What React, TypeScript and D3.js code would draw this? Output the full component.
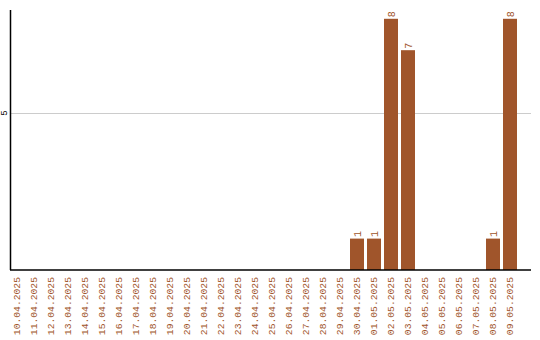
import React from "react";
import * as d3 from "d3";

const dates = [
  "10.04.2025", "11.04.2025", "12.04.2025", "13.04.2025", "14.04.2025",
  "15.04.2025", "16.04.2025", "17.04.2025", "18.04.2025", "19.04.2025",
  "20.04.2025", "21.04.2025", "22.04.2025", "23.04.2025", "24.04.2025",
  "25.04.2025", "26.04.2025", "27.04.2025", "28.04.2025", "29.04.2025",
  "30.04.2025", "01.05.2025", "02.05.2025", "03.05.2025", "04.05.2025",
  "05.05.2025", "06.05.2025", "07.05.2025", "08.05.2025", "09.05.2025",
];
const counts = [
  0, 0, 0, 0, 0, 0, 0, 0, 0, 0,
  0, 0, 0, 0, 0, 0, 0, 0, 0, 0,
  1, 1, 8, 7, 0, 0, 0, 0, 1, 8,
];
const yTicks = [5];

const W = 540;
const H = 340;
const left = 10;
const right = 531;
const top = 10;
const bottom = 270;
const color = "#a0552b";
const font = "'Liberation Mono', 'DejaVu Sans Mono', monospace";

export default function App() {
  const x = d3.scaleBand<string>().domain(dates).range([left, 517]).paddingInner(3 / 17).paddingOuter(0);
  const y = d3.scaleLinear().domain([0, 8.28]).range([bottom, top]);

  return (
    <svg width={W} height={H} style={{ position: "absolute", left: 0, top: 0, background: "#fff" }}>
      {yTicks.map((t) => (
        <g key={t}>
          <line x1={left} x2={right} y1={Math.round(y(t)) + 0.5} y2={Math.round(y(t)) + 0.5} stroke="#cccccc" />
          <text
            transform={`translate(4,${y(t)}) rotate(-90)`}
            textAnchor="middle"
            dy="0.35em"
            fontFamily={font}
            fontSize={9}
            fill="#000"
          >
            {t}
          </text>
        </g>
      ))}
      {dates.map((d, i) =>
        counts[i] > 0 ? (
          <g key={d}>
            <rect x={x(d)} y={y(counts[i])} width={x.bandwidth()} height={bottom - y(counts[i])} fill={color} />
            <text
              transform={`translate(${(x(d) as number) + x.bandwidth() / 2},${y(counts[i]) - 1.5}) rotate(-90)`}
              textAnchor="start"
              dy="0.35em"
              fontFamily={font}
              fontSize={10}
              fill={color}
            >
              {counts[i]}
            </text>
          </g>
        ) : null
      )}
      <line x1={left + 0.5} x2={left + 0.5} y1={top} y2={bottom} stroke="#000" strokeWidth={1.5} />
      <line x1={left} x2={right} y1={bottom} y2={bottom} stroke="#000" strokeWidth={1.5} />
      {dates.map((d) => (
        <text
          key={"l" + d}
          transform={`translate(${(x(d) as number) + x.bandwidth() / 2},277) rotate(-90)`}
          textAnchor="end"
          dy="0.35em"
          fontFamily={font}
          fontSize={9.7}
          fill={color}
        >
          {d}
        </text>
      ))}
    </svg>
  );
}
